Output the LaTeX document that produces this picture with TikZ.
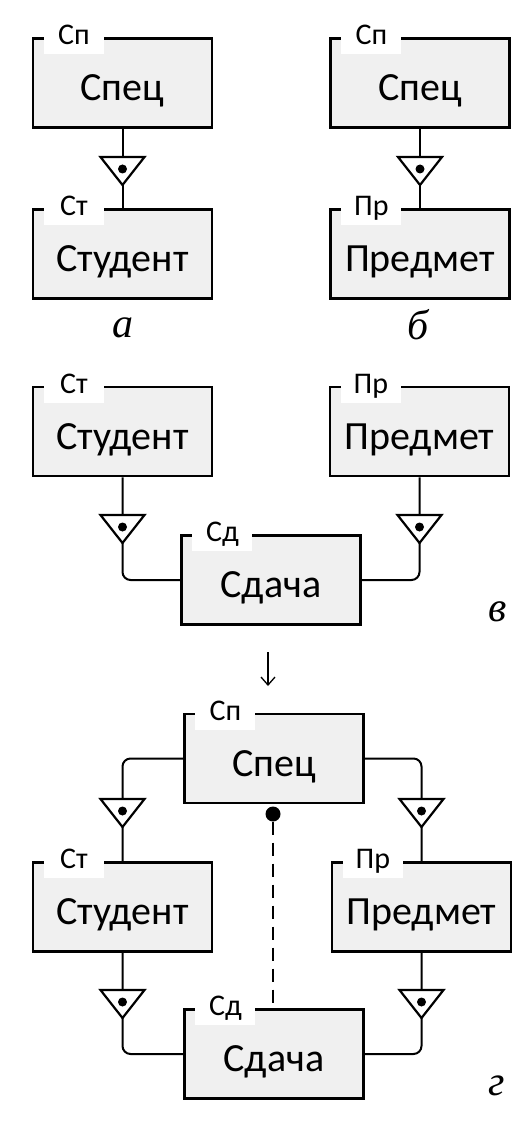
\documentclass[tikz,border=0pt]{standalone}
\usepackage{fontspec}
\newfontfamily\carlito{Carlito}
\newfontfamily\lserif{Liberation Serif}
\usetikzlibrary{arrows.meta,calc}

\tikzset{
  ent/.style={draw,line width=2.6pt,fill=gray!12,minimum width=179pt,minimum height=89pt,
    inner sep=0pt,text height=38pt,text depth=3pt,font=\carlito\fontsize{40}{44}\selectfont},
  tab/.style={fill=white,inner sep=0pt,minimum width=60pt,minimum height=24pt,
    text height=11pt,text depth=6pt,anchor=north west,font=\carlito\fontsize{30}{32}\selectfont},
  link/.style={line width=2pt,rounded corners=8pt},
  panelname/.style={font=\lserif\itshape\fontsize{42}{46}\selectfont},
  relsym/.pic={
    \draw[fill=white,line width=2.2pt,line join=miter] (-22,0) -- (22,0) -- (0,28) -- cycle;
    \fill (0,12) circle (4.5pt);
    \coordinate (-top) at (0,0);
    \coordinate (-tip) at (0,28);
  }
}

\begin{document}
\begin{tikzpicture}[x=1pt,y=-1pt]
\useasboundingbox (0,0) rectangle (530,1123);
% a
\node[ent] (sp1) at (122.5,83) {Спец};
\node[tab] (sp1t) at ([xshift=12pt,yshift=7pt]sp1.north west) {Сп};
\node[ent] (st1) at (122.5,254) {Студент};
\node[tab] (st1t) at ([xshift=12pt,yshift=7pt]st1.north west) {Ст};
\pic (r1) at (122.5,157) {relsym};
\draw[link] (sp1) -- (r1-top) (r1-tip) -- (st1);
\node[panelname] (na) at (123,328) {а};
% b
\node[ent] (sp2) at (420,83) {Спец};
\node[tab] (sp2t) at ([xshift=12pt,yshift=7pt]sp2.north west) {Сп};
\node[ent] (pr2) at (420,254) {Предмет};
\node[tab] (pr2t) at ([xshift=12pt,yshift=7pt]pr2.north west) {Пр};
\pic (r2) at (420,157) {relsym};
\draw[link] (sp2) -- (r2-top) (r2-tip) -- (pr2);
\node[panelname] (nb) at (418,325) {б};
% v
\node[ent] (st3) at (122.5,431.5) {Студент};
\node[tab] (st3t) at ([xshift=12pt,yshift=7pt]st3.north west) {Ст};
\node[ent] (pr3) at (419.5,431.5) {Предмет};
\node[tab] (pr3t) at ([xshift=12pt,yshift=7pt]pr3.north west) {Пр};
\node[ent] (sd3) at (271,580) {Сдача};
\node[tab] (sd3t) at ([xshift=12pt,yshift=7pt]sd3.north west) {Сд};
\pic (r3) at (122.5,515) {relsym};
\pic (r4) at (419.5,515) {relsym};
\draw[link] (st3) -- (r3-top) (r3-tip) |- (sd3.west);
\draw[link] (pr3) -- (r4-top) (r4-tip) |- (sd3.east);
\node[panelname] (nv) at (498,612) {в};
% arrow
\coordinate (arrs) at (268,652);
\coordinate (arre) at (268,686);
\draw[line width=1.3pt,-{Straight Barb[length=8pt,width=14pt]}] (arrs) -- (arre);
% g
\node[ent] (sp4) at (274,758.5) {Спец};
\node[tab] (sp4t) at ([xshift=12pt,yshift=7pt]sp4.north west) {Сп};
\node[ent] (st4) at (122.5,907) {Студент};
\node[tab] (st4t) at ([xshift=12pt,yshift=7pt]st4.north west) {Ст};
\node[ent] (pr4) at (421.5,907) {Предмет};
\node[tab] (pr4t) at ([xshift=12pt,yshift=7pt]pr4.north west) {Пр};
\node[ent] (sd4) at (274,1054) {Сдача};
\node[tab] (sd4t) at ([xshift=12pt,yshift=7pt]sd4.north west) {Сд};
\pic (r5) at (122.5,799) {relsym};
\pic (r6) at (421.5,799) {relsym};
\pic (r7) at (122.5,990) {relsym};
\pic (r8) at (421.5,990) {relsym};
\draw[link] (sp4.west) -| (r5-top) (r5-tip) -- (st4);
\draw[link] (sp4.east) -| (r6-top) (r6-tip) -- (pr4);
\draw[link] (st4) -- (r7-top) (r7-tip) |- (sd4.west);
\draw[link] (pr4) -- (r8-top) (r8-tip) |- (sd4.east);
\node[circle,fill,inner sep=0pt,minimum size=15pt] (dot) at (273,814) {};
\draw[line width=2pt,dash pattern=on 13pt off 8pt] (dot) -- (dot |- sd4.north);
\node[panelname] (ng) at (497,1086) {г};
\end{tikzpicture}
\end{document}
